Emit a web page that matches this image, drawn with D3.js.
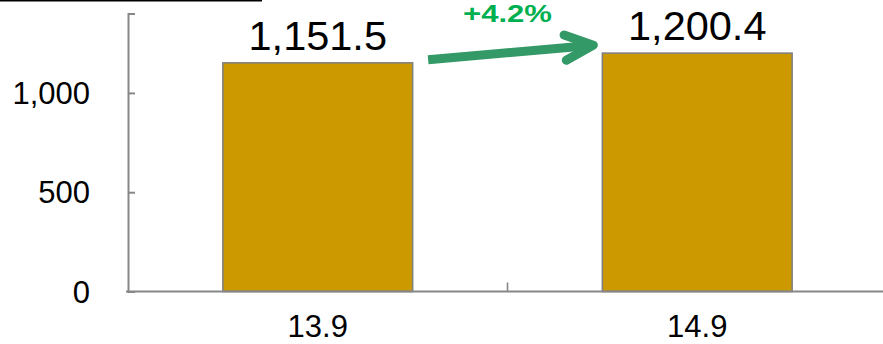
<!DOCTYPE html>
<html>
<head>
<meta charset="utf-8">
<script src="https://cdn.jsdelivr.net/npm/d3@7/dist/d3.min.js"></script>
<style>
  html, body { margin: 0; padding: 0; background: #fff; }
  svg { display: block; font-family: "Liberation Sans", Arial, sans-serif; }
</style>
</head>
<body>
<svg id="chart" width="883" height="344"></svg>
<script>
// Fiscal periods and values
const categories = ["13.9", "14.9"];
const values = [1151.5, 1200.4];
const valueLabels = ["1,151.5", "1,200.4"];
const yTicks = [0, 500, 1000];
const growthLabel = "+4.2%";

const svg = d3.select("#chart");
const axisColor = "#878787";

const x = d3.scaleBand()
  .domain(categories)
  .range([128, 887])
  .paddingInner(0.5)
  .paddingOuter(0.25);

const y = d3.scaleLinear()
  .domain([0, 1400])
  .range([291.5, 13.5]);

// heading underline at the top edge
svg.append("line")
  .attr("x1", 0).attr("x2", 262)
  .attr("y1", 0.7).attr("y2", 0.7)
  .attr("stroke", "#000").attr("stroke-width", 1.6);

// bars
svg.selectAll("rect.bar")
  .data(values)
  .join("rect")
  .attr("class", "bar")
  .attr("x", (d, i) => x(categories[i]))
  .attr("width", x.bandwidth())
  .attr("y", d => y(d))
  .attr("height", d => y(0) - y(d))
  .attr("fill", "#CC9900")
  .attr("stroke", "#808080")
  .attr("stroke-width", 1.6);

// value labels above bars
svg.selectAll("text.val")
  .data(values)
  .join("text")
  .attr("class", "val")
  .attr("x", (d, i) => x(categories[i]) + x.bandwidth() / 2)
  .attr("y", d => y(d) - 13)
  .attr("text-anchor", "middle")
  .attr("font-size", 41.5)
  .attr("fill", "#000")
  .text((d, i) => valueLabels[i]);

// y axis
const yAxis = d3.axisRight(y).tickValues(yTicks).tickSize(7).tickFormat("");
const gy = svg.append("g").attr("transform", "translate(128,0)").call(yAxis);
gy.select(".domain").attr("stroke", axisColor).attr("stroke-width", 2);
gy.selectAll(".tick line").attr("stroke", axisColor).attr("stroke-width", 2);

svg.selectAll("text.ytick")
  .data(yTicks)
  .join("text")
  .attr("class", "ytick")
  .attr("x", 90)
  .attr("y", d => y(d) + 11)
  .attr("text-anchor", "end")
  .attr("font-size", 31)
  .attr("fill", "#000")
  .text(d => d3.format(",")(d));

// x axis baseline with category boundary ticks
svg.append("line")
  .attr("x1", 126).attr("x2", 887)
  .attr("y1", y(0)).attr("y2", y(0))
  .attr("stroke", axisColor).attr("stroke-width", 2);

const step = x.step();
const boundaries = d3.range(categories.length + 1).map(i => x.range()[0] + i * step);
svg.selectAll("line.xtick")
  .data(boundaries.slice(1))
  .join("line")
  .attr("class", "xtick")
  .attr("x1", d => d).attr("x2", d => d)
  .attr("y1", y(0)).attr("y2", y(0) - 9)
  .attr("stroke", axisColor).attr("stroke-width", 1.6);

svg.selectAll("text.xlab")
  .data(categories)
  .join("text")
  .attr("class", "xlab")
  .attr("x", d => x(d) + x.bandwidth() / 2)
  .attr("y", 337)
  .attr("text-anchor", "middle")
  .attr("font-size", 31)
  .attr("fill", "#000")
  .text(d => d);

// growth arrow from the first bar to the second
const arrowColor = "#339966";
const x0 = x(categories[0]) + x.bandwidth() + 15.5;
const y0 = y(values[0]) - 3;
const x1 = x(categories[1]) - 9;
const y1 = y(values[1]) - 8;
const ang = Math.atan2(y1 - y0, x1 - x0);
const shaftEnd = [x1 - 3 * Math.cos(ang), y1 - 3 * Math.sin(ang)];

svg.append("path")
  .attr("d", d3.line()([[x0, y0], shaftEnd]))
  .attr("stroke", arrowColor)
  .attr("stroke-width", 9)
  .attr("fill", "none");

const headLen = 31, headAng = 0.42;
const upper = [x1 - headLen * Math.cos(ang - headAng), y1 - headLen * Math.sin(ang - headAng)];
const lower = [x1 - headLen * Math.cos(ang + headAng), y1 - headLen * Math.sin(ang + headAng)];
svg.append("path")
  .attr("d", d3.line()([upper, [x1, y1], lower]))
  .attr("stroke", arrowColor)
  .attr("stroke-width", 9)
  .attr("stroke-linecap", "round")
  .attr("stroke-linejoin", "round")
  .attr("fill", "none");

svg.append("text")
  .attr("x", 463)
  .attr("y", 21.5)
  .attr("font-size", 23.5)
  .attr("font-weight", "bold")
  .attr("fill", "#00B050")
  .attr("textLength", 89)
  .attr("lengthAdjust", "spacingAndGlyphs")
  .text(growthLabel);
</script>
</body>
</html>
